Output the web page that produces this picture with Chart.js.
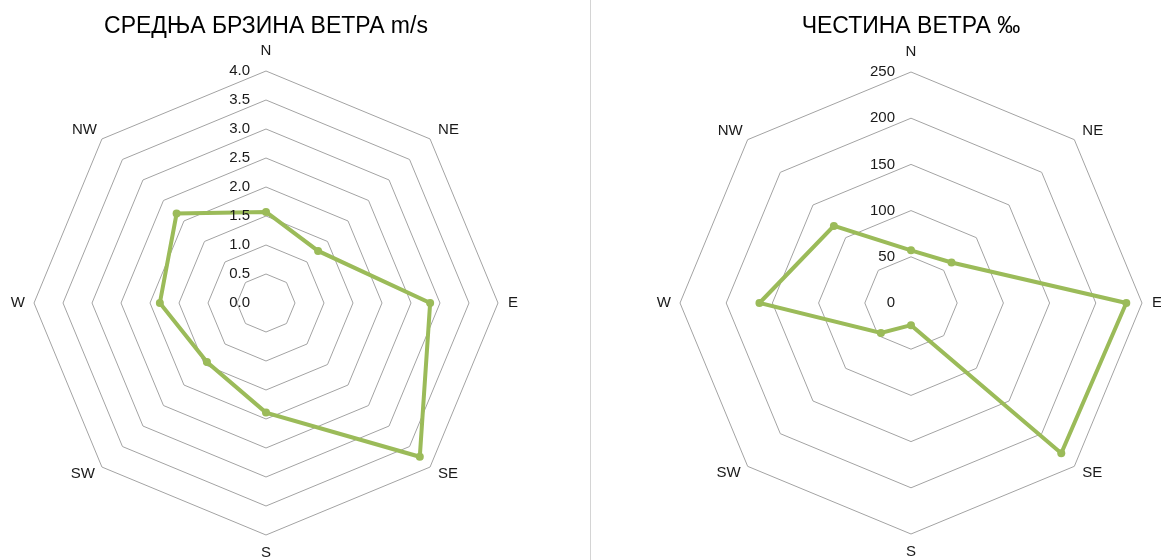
<!DOCTYPE html>
<html>
<head>
<meta charset="utf-8">
<script src="https://cdn.jsdelivr.net/npm/chart.js@4.4.1/dist/chart.umd.min.js"></script>
<style>
  html, body { margin: 0; padding: 0; background: #ffffff; }
  #wrap { position: relative; width: 1161px; height: 560px; overflow: hidden; }
  #left { position: absolute; left: 0; top: 0; width: 590px; height: 560px; }
  #sep { position: absolute; left: 590px; top: 0; width: 1px; height: 560px; background: #d4d4d4; }
  #right { position: absolute; left: 591px; top: 0; width: 570px; height: 560px; }
  canvas { display: block; }
</style>
</head>
<body>
<div id="wrap">
  <div id="left"><canvas id="speedChart" width="590" height="560"></canvas></div>
  <div id="sep"></div>
  <div id="right"><canvas id="freqChart" width="570" height="560"></canvas></div>
</div>
<script>
// Wind directions (clockwise from north)
const directions = ['N', 'NE', 'E', 'SE', 'S', 'SW', 'W', 'NW'];

// Mean wind speed per direction, m/s
const meanSpeed = [1.57, 1.27, 2.83, 3.75, 1.89, 1.44, 1.83, 2.18];
// Wind frequency per direction, per mille
const frequency = [57, 62, 233, 230, 24, 46, 164, 118];

// Ring labels
const speedTicks = ['0.0', '0.5', '1.0', '1.5', '2.0', '2.5', '3.0', '3.5', '4.0'];
const freqTicks = ['0', '50', '100', '150', '200', '250'];

const speedTitle = 'СРЕДЊА БРЗИНА ВЕТРА m/s';
const freqTitle = 'ЧЕСТИНА ВЕТРА ‰';

const LINE = '#9bbb59';
const GRID = '#a3a3a3';
const TEXT = '#1a1a1a';
const FONT = "'Liberation Sans', Arial, sans-serif";

// Offsets of each direction label from its outer vertex: [dx, dy, align]
const labelPlacement = [
  [0, -20, 'center'],
  [8, -9, 'left'],
  [10, 0, 'left'],
  [8, 7, 'left'],
  [0, 18, 'center'],
  [-7, 7, 'right'],
  [-9, 0, 'right'],
  [-5, -9, 'right']
];

// Draws ring values left of the north spoke and the compass labels outside the outer ring
const radarText = {
  id: 'radarText',
  afterDraw(chart) {
    const s = chart.scales.r;
    const ctx = chart.ctx;
    ctx.save();
    ctx.fillStyle = TEXT;
    ctx.textBaseline = 'middle';
    ctx.font = '15px ' + FONT;
    ctx.textAlign = 'right';
    s.ticks.forEach(t => {
      const p = s.getPointPositionForValue(0, t.value);
      ctx.fillText(t.label, s.xCenter - 16, p.y);
    });
    chart.data.labels.forEach((lab, i) => {
      const p = s.getPointPosition(i, s.drawingArea);
      const [dx, dy, align] = labelPlacement[i];
      ctx.textAlign = align;
      ctx.fillText(lab, p.x + dx, p.y + dy);
    });
    ctx.restore();
  }
};

function makeRadar(canvasId, values, tickLabels, max, step, title, pad, titleBottom) {
  return new Chart(document.getElementById(canvasId), {
    type: 'radar',
    data: {
      labels: directions,
      datasets: [{
        data: values,
        borderColor: LINE,
        backgroundColor: LINE,
        borderWidth: 4,
        pointRadius: 4,
        pointBackgroundColor: LINE,
        pointBorderColor: LINE,
        pointBorderWidth: 0,
        fill: false,
        tension: 0
      }]
    },
    options: {
      responsive: false,
      animation: false,
      layout: { padding: pad },
      plugins: {
        legend: { display: false },
        tooltip: { enabled: false },
        title: {
          display: true,
          text: title,
          color: '#000000',
          font: { family: FONT, size: 23, weight: 'normal', lineHeight: 1.2 },
          padding: { top: 13, bottom: titleBottom }
        }
      },
      scales: {
        r: {
          min: 0,
          max: max,
          beginAtZero: true,
          angleLines: { display: false },
          grid: { color: GRID, lineWidth: 1 },
          pointLabels: { display: false },
          ticks: {
            display: false,
            stepSize: step,
            callback: (v, i) => tickLabels[i]
          }
        }
      }
    },
    plugins: [radarText]
  });
}

makeRadar('speedChart', meanSpeed, speedTicks, 4, 0.5, speedTitle,
  { left: 34, right: 92, top: 0, bottom: 25 }, 30.4);
makeRadar('freqChart', frequency, freqTicks, 250, 50, freqTitle,
  { left: 89, right: 19, top: 0, bottom: 26 }, 31.4);
</script>
</body>
</html>
